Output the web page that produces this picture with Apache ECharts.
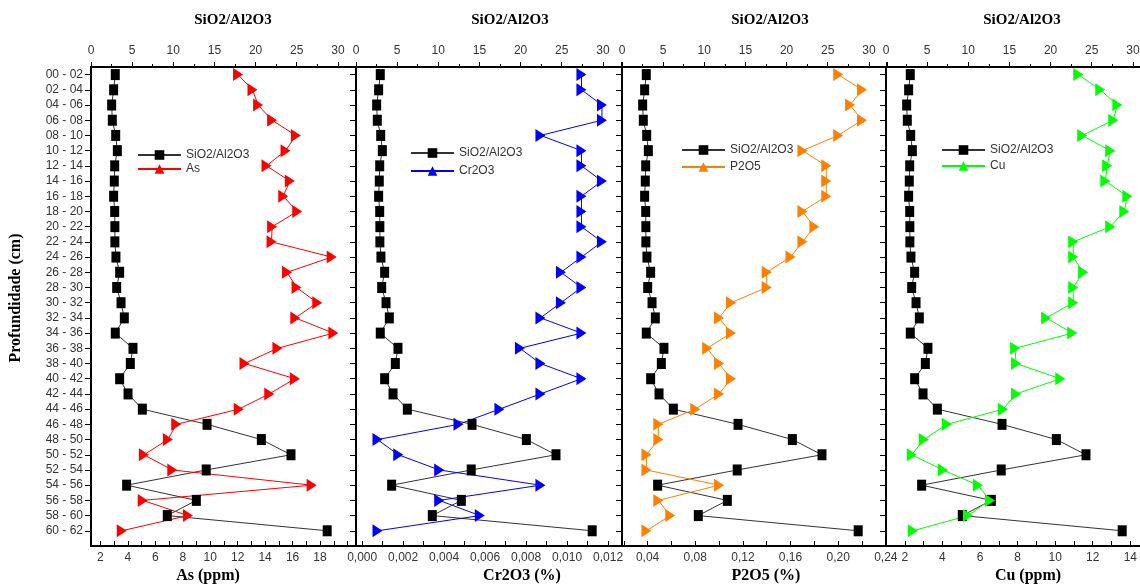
<!DOCTYPE html>
<html>
<head>
<meta charset="utf-8">
<script src="https://cdn.jsdelivr.net/npm/echarts@6/dist/echarts.min.js"></script>
<style>html,body{margin:0;padding:0;background:#fff}#c{width:1140px;height:585px}</style>
</head>
<body>
<div id="c"></div>
<script>
const categories = ['00 - 02','02 - 04','04 - 06','06 - 08','08 - 10','10 - 12','12 - 14','14 - 16','16 - 18','18 - 20',
  '20 - 22','22 - 24','24 - 26','26 - 28','28 - 30','30 - 32','32 - 34','34 - 36','36 - 38','38 - 40',
  '40 - 42','42 - 44','44 - 46','46 - 48','48 - 50','50 - 52','52 - 54','54 - 56','56 - 58','58 - 60','60 - 62'];
const depthMid = [1,3,5,7,9,11,13,15,17,19,21,23,25,27,29,31,33,35,37,39,41,43,45,47,49,51,53,55,57,59,61];

const sio2Al2o3 = [2.95,2.75,2.51,2.59,3.0,3.2,2.88,2.83,2.75,2.88,2.9,2.9,3.03,3.48,3.12,3.65,4.05,2.95,5.1,4.78,
  3.48,4.5,6.24,14.1,20.7,24.3,14.0,4.33,12.8,9.27,28.7];
const asPpm = [12.03,13.08,13.49,14.51,16.24,15.49,14.1,15.8,15.32,16.34,14.51,14.47,18.85,15.6,16.29,17.8,16.2,18.97,14.9,12.5,
  16.17,14.3,12.08,7.53,6.92,5.17,7.24,17.39,5.09,8.38,3.56];
const cr2o3 = [0.0107,0.0107,0.0117,0.0117,0.0087,0.0107,0.0107,0.0117,0.0107,0.0107,0.0107,0.0117,0.0107,0.0097,0.0107,0.0097,0.0087,0.0107,0.0077,0.0087,
  0.0107,0.0087,0.0067,0.0047,0.00075,0.00176,0.00376,0.0087,0.00376,0.00574,0.00075];
const p2o5 = [0.20,0.22,0.21,0.22,0.20,0.17,0.19,0.19,0.19,0.17,0.18,0.17,0.16,0.14,0.14,0.11,0.10,0.11,0.09,0.10,
  0.11,0.10,0.08,0.049,0.049,0.039,0.039,0.10,0.049,0.059,0.039];
const cuPpm = [11.23,12.4,13.31,13.09,11.44,12.93,12.77,12.67,13.84,13.68,12.93,10.96,10.96,11.49,10.96,10.96,9.52,10.91,7.87,7.92,
  10.27,7.92,7.23,4.24,3.01,2.37,4.03,5.89,6.53,5.36,2.43];

const asLabels = [2,4,6,8,10,12,14,16,18];
const asTicks = [2,3,4,5,6,7,8,9,10,11,12,13,14,15,16,17,18,19,20];
const crLabels = [0,0.002,0.004,0.006,0.008,0.010,0.012];
const crTicks = [0,0.001,0.002,0.003,0.004,0.005,0.006,0.007,0.008,0.009,0.010,0.011,0.012];
const pLabels = [0.04,0.08,0.12,0.16,0.20,0.24];
const pTicks = [0.02,0.04,0.06,0.08,0.10,0.12,0.14,0.16,0.18,0.20,0.22,0.24];
const cuLabels = [2,4,6,8,10,12,14];
const cuTicks = [1,2,3,4,5,6,7,8,9,10,11,12,13,14,15];

const topTitle = 'SiO2/Al2O3';
const elemNames = ['As','Cr2O3','P2O5','Cu'];
const bottomTitles = ['As (ppm)','Cr2O3 (%)','P2O5 (%)','Cu (ppm)'];
const elemColors = ['#ff0000','#0000ff','#ff8000','#00ff00'];
const elemData = [asPpm, cr2o3, p2o5, cuPpm];

const panelLeft = [91, 356, 622, 886];
const panelWidth = 265;
const bottomRanges = [[1.32,20.62],[-0.0003,0.01263],[0.0185,0.241],[1.0,15.1]];
const bottomLabelVals = [asLabels, crLabels, pLabels, cuLabels];
const bottomTickVals = [asTicks, crTicks, pTicks, cuTicks];
const bottomFmt = [
  v => String(v),
  v => v.toFixed(3).replace('.', ','),
  v => v.toFixed(2).replace('.', ','),
  v => String(v)
];
const topTitleX = [233, 510, 770, 1022];
const bottomTitleX = [208, 522, 766, 1028];
const legendPos = [[137,149,2],[410,147,6],[681,144,5],[941,144,4]];

const serif = 'Liberation Serif, Times New Roman, serif';
const sans = 'Liberation Sans, Arial, sans-serif';
const axisLine = {show:true, lineStyle:{color:'#000', width:2}};

const grids = [], xAxes = [], yAxes = [], series = [], legends = [], titles = [];
for (let i = 0; i < 4; i++) {
  grids.push({left: panelLeft[i], width: panelWidth, top: 67, bottom: 39, outerBoundsMode: 'none', containLabel: false});
  xAxes.push({
    type:'value', gridIndex:i, position:'top', min:0, max:32.2, interval:5,
    axisLine: axisLine,
    axisTick:{show:true, inside:false, length:5, lineStyle:{color:'#000', width:1}},
    minorTick:{show:true, splitNumber:2, length:3, lineStyle:{color:'#000', width:1}},
    axisLabel:{show:true, margin:10, fontSize:12, fontFamily:sans, color:'#333', showMaxLabel:false},
    splitLine:{show:false}, minorSplitLine:{show:false}
  });
  xAxes.push({
    type:'value', gridIndex:i, position:'bottom', min: bottomRanges[i][0], max: bottomRanges[i][1],
    axisLine: axisLine,
    axisTick:{show:true, inside:true, length:5, customValues: bottomTickVals[i], lineStyle:{color:'#000', width:1}},
    axisLabel:{show:true, margin:6, fontSize:12, fontFamily:sans, color:'#333', customValues: bottomLabelVals[i], formatter: bottomFmt[i]},
    splitLine:{show:false}
  });
  yAxes.push({
    type:'value', gridIndex:i, inverse:true, min:0, max:63,
    axisLine: axisLine,
    axisTick:{show:true, inside:false, length:6, customValues: depthMid, lineStyle:{color:'#000', width:1}},
    axisLabel:{show: i === 0, margin:8, fontSize:12, fontFamily:sans, color:'#333', customValues: depthMid,
      formatter: v => categories[depthMid.indexOf(v)]},
    splitLine:{show:false}
  });
  series.push({
    name: topTitle, type:'line', xAxisIndex: 2*i, yAxisIndex: i,
    data: sio2Al2o3.map((v,k) => [v, depthMid[k]]),
    symbol:'rect', symbolSize:[9,11], showAllSymbol:true,
    itemStyle:{color:'#000'}, lineStyle:{color:'#333', width:1}, animation:false
  });
  series.push({
    name: elemNames[i], type:'line', xAxisIndex: 2*i+1, yAxisIndex: i,
    data: elemData[i].map((v,k) => [v, depthMid[k]]),
    symbol:'triangle', symbolSize:[13,10], symbolRotate:-90, showAllSymbol:true,
    itemStyle:{color: elemColors[i]}, lineStyle:{color: elemColors[i], width:1}, animation:false
  });
  legends.push({
    orient:'vertical', left: legendPos[i][0], top: legendPos[i][1], itemGap: legendPos[i][2],
    itemWidth:43, itemHeight:12, symbolRotate:0, padding:0,
    data:[topTitle, elemNames[i]], selectedMode:false,
    textStyle:{fontFamily:sans, fontSize:12, color:'#333'}
  });
  titles.push({text: topTitle, left: topTitleX[i], top: 13, textAlign:'center', padding:0,
    textStyle:{fontFamily:serif, fontWeight:'bold', fontSize:15, color:'#000'}});
  titles.push({text: bottomTitles[i], left: bottomTitleX[i], top: 568, textAlign:'center', padding:0,
    textStyle:{fontFamily:serif, fontWeight:'bold', fontSize:16, color:'#000'}});
}

const chart = echarts.init(document.getElementById('c'), null, {renderer:'canvas'});
chart.setOption({
  animation:false,
  backgroundColor:'#fff',
  title: titles,
  legend: legends,
  grid: grids,
  xAxis: xAxes,
  yAxis: yAxes,
  series: series,
  graphic: [{
    type:'text', x:16, y:298, rotation: Math.PI/2,
    style:{text:'Profundidade (cm)', font:'bold 16px ' + serif, fill:'#000', textAlign:'center', textVerticalAlign:'middle'}
  }]
});
</script>
</body>
</html>
